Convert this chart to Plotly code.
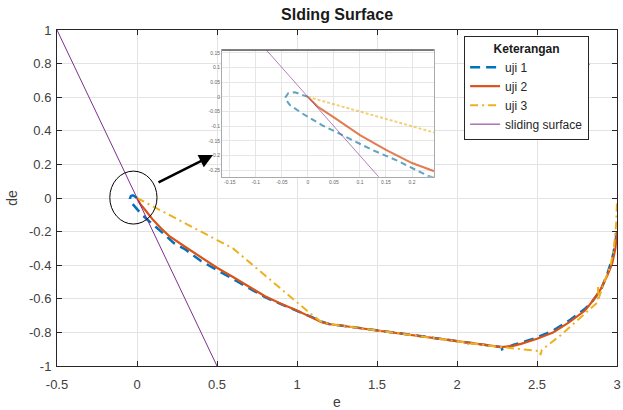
import plotly.graph_objects as go

# ---------------- data ----------------
uji1_e = [0.0, -0.006, -0.025, -0.038, -0.044, -0.035, -0.012, 0.026, 0.071, 0.122, 0.173, 0.231,
          0.3, 0.4, 0.5, 0.6, 0.7, 0.8, 0.9, 1.0, 1.1, 1.15, 1.2, 1.6, 2.0, 2.28, 2.282,
          2.35, 2.4, 2.5, 2.6, 2.7, 2.8, 2.85, 2.9, 2.94, 2.97, 2.99, 3.0]
uji1_de = [0.0, 0.004, 0.016, 0.012, -0.004, -0.027, -0.055, -0.095, -0.134, -0.179, -0.218, -0.269,
           -0.305, -0.375, -0.43, -0.485, -0.54, -0.59, -0.632, -0.67, -0.712, -0.735, -0.75, -0.8,
           -0.85, -0.888, -0.9, -0.875, -0.862, -0.83, -0.79, -0.73, -0.66, -0.61, -0.545, -0.45,
           -0.36, -0.27, -0.17]

uji2_e = [0.0, 0.02, 0.05, 0.1, 0.15, 0.2, 0.3, 0.4, 0.5, 0.6, 0.7, 0.8, 0.9, 1.0, 1.1, 1.15, 1.2,
          1.6, 2.0, 2.28, 2.35, 2.4, 2.5, 2.6, 2.7, 2.8, 2.85, 2.9, 2.94, 2.97, 2.99, 3.0]
uji2_de = [0.0, -0.035, -0.07, -0.13, -0.18, -0.225, -0.29, -0.355, -0.415, -0.47, -0.53, -0.585,
           -0.63, -0.67, -0.715, -0.738, -0.75, -0.8, -0.85, -0.888, -0.88, -0.868, -0.838, -0.8,
           -0.74, -0.67, -0.61, -0.54, -0.46, -0.39, -0.3, -0.2]

uji3_e = [0.0, 0.3, 0.6, 1.08, 1.15, 1.2, 2.07, 2.072, 2.075, 2.28, 2.52, 2.522, 2.53, 2.65, 2.77,
          2.88, 2.882, 2.885, 2.92, 2.96, 2.98, 2.995, 3.0]
uji3_de = [0.0, -0.15, -0.3, -0.685, -0.735, -0.75, -0.862, -0.878, -0.864, -0.888, -0.912, -0.935,
           -0.905, -0.815, -0.716, -0.62, -0.53, -0.6, -0.5, -0.4, -0.3, -0.15, -0.02]

surf_e = [-0.5, 0.5]
surf_de = [1.0, -1.0]

x_ticks = [-0.5, 0, 0.5, 1, 1.5, 2, 2.5, 3]
x_ticktext = ["-0.5", "0", "0.5", "1", "1.5", "2", "2.5", "3"]
y_ticks = [-1, -0.8, -0.6, -0.4, -0.2, 0, 0.2, 0.4, 0.6, 0.8, 1]
y_ticktext = ["-1", "-0.8", "-0.6", "-0.4", "-0.2", "0", "0.2", "0.4", "0.6", "0.8", "1"]

in_x_ticks = [-0.15, -0.1, -0.05, 0, 0.05, 0.1, 0.15, 0.2]
in_x_ticktext = ["-0.15", "-0.1", "-0.05", "0", "0.05", "0.1", "0.15", "0.2"]
in_y_ticks = [-0.25, -0.2, -0.15, -0.1, -0.05, 0, 0.05, 0.1, 0.15]
in_y_ticktext = ["-0.25", "-0.2", "-0.15", "-0.1", "-0.05", "0", "0.05", "0.1", "0.15"]

BLUE = "#0072BD"
ORANGE = "#D95319"
YELLOW = "#EDB120"
PURPLE = "#7E2F8E"
FONT = "Liberation Sans, Arial, sans-serif"

fig = go.Figure()

# main traces
fig.add_trace(go.Scatter(x=uji1_e, y=uji1_de, mode="lines", name="uji 1",
                         line=dict(color=BLUE, width=2.5, dash="10px,6px")))
fig.add_trace(go.Scatter(x=uji2_e, y=uji2_de, mode="lines", name="uji 2",
                         line=dict(color=ORANGE, width=2.2)))
fig.add_trace(go.Scatter(x=uji3_e, y=uji3_de, mode="lines", name="uji 3",
                         line=dict(color=YELLOW, width=2, dash="8px,4px,2px,4px")))
fig.add_trace(go.Scatter(x=surf_e, y=surf_de, mode="lines", name="sliding surface",
                         line=dict(color=PURPLE, width=1)))

# inset traces
fig.add_trace(go.Scatter(x=uji1_e, y=uji1_de, mode="lines", showlegend=False, xaxis="x2", yaxis="y2",
                         opacity=0.75, line=dict(color="#2E86AB", width=2, dash="6px,4px")))
fig.add_trace(go.Scatter(x=uji2_e, y=uji2_de, mode="lines", showlegend=False, xaxis="x2", yaxis="y2",
                         opacity=0.75, line=dict(color=ORANGE, width=2)))
fig.add_trace(go.Scatter(x=uji3_e, y=uji3_de, mode="lines", showlegend=False, xaxis="x2", yaxis="y2",
                         opacity=0.6, line=dict(color=YELLOW, width=2, dash="3px,2px")))
fig.add_trace(go.Scatter(x=surf_e, y=surf_de, mode="lines", showlegend=False, xaxis="x2", yaxis="y2",
                         opacity=0.6, line=dict(color=PURPLE, width=1)))

axis_common = dict(showgrid=True, gridcolor="#e3e3e3", gridwidth=1, zeroline=False,
                   showline=True, mirror="ticks", linecolor="#262626", linewidth=1,
                   ticks="inside", ticklen=5, tickcolor="#262626",
                   tickfont=dict(family=FONT, size=13, color="#404040"))

fig.update_layout(
    width=623, height=410,
    margin=dict(l=57, r=6, t=30, b=44),
    paper_bgcolor="white", plot_bgcolor="white",
    font=dict(family=FONT, color="#262626"),
    title=dict(text="<b>Slding Surface</b>", x=0.541, xanchor="center", y=0.966, yanchor="middle",
               font=dict(family=FONT, size=16, color="#1a1a1a")),
    xaxis=dict(range=[-0.5, 3], tickvals=x_ticks, ticktext=x_ticktext, domain=[0, 1],
               title=dict(text="e", font=dict(family=FONT, size=14, color="#404040"), standoff=8),
               ticklabelstandoff=6, automargin=False, **axis_common),
    yaxis=dict(range=[-1, 1], tickvals=y_ticks, ticktext=y_ticktext, domain=[0, 1],
               title=dict(text="de", font=dict(family=FONT, size=14, color="#404040"), standoff=8),
               ticklabelstandoff=2, automargin=False, **axis_common),
    xaxis2=dict(domain=[0.2946, 0.673], anchor="y2", range=[-0.165, 0.242],
                tickvals=in_x_ticks, ticktext=in_x_ticktext, showgrid=True, gridcolor="#e6e6e6",
                zeroline=False, showline=True, mirror=True, linecolor="#aaaaaa", ticks="",
                tickfont=dict(family=FONT, size=5, color="#666666")),
    yaxis2=dict(domain=[0.563, 0.94], anchor="x2", range=[-0.272, 0.159],
                tickvals=in_y_ticks, ticktext=in_y_ticktext, showgrid=True, gridcolor="#e6e6e6",
                zeroline=False, showline=True, mirror=True, linecolor="#aaaaaa", ticks="",
                tickfont=dict(family=FONT, size=5, color="#666666")),
    legend=dict(x=0.727, y=0.982, xanchor="left", yanchor="top",
                bgcolor="white", bordercolor="#262626", borderwidth=1,
                font=dict(family=FONT, size=12, color="#262626"),
                title=dict(text="<b>Keterangan</b>", side="top center",
                           font=dict(family=FONT, size=12, color="#1a1a1a")),
                itemwidth=30, tracegroupgap=0),
    showlegend=True,
)

# white box behind the inset (covers main grid, below traces)
fig.add_shape(type="rect", xref="x", yref="y", x0=0.444, x1=2.02, y0=0.06, y1=0.94,
              fillcolor="white", line=dict(width=0), layer="below")
# top border of inset darker
fig.add_shape(type="line", xref="x2 domain", yref="y2 domain", x0=0, x1=1, y0=1, y1=1,
              line=dict(color="#333333", width=1))
# circle around the origin
fig.add_shape(type="circle", xref="x", yref="y", x0=-0.17, x1=0.125, y0=-0.155, y1=0.16,
              line=dict(color="black", width=1))
# legend title separator
fig.add_shape(type="line", xref="paper", yref="paper", x0=0.727, x1=0.951, y0=0.898, y1=0.898,
              line=dict(color="#262626", width=1))
# arrow
fig.add_annotation(x=0.475, y=0.256, ax=0.125, ay=0.089, xref="x", yref="y", axref="x", ayref="y",
                   showarrow=True, arrowhead=2, arrowsize=1.1, arrowwidth=2.5, arrowcolor="black", text="")

fig.write_html("out.html", config={"displayModeBar": False},
               post_script="document.body.style.margin='0';document.body.style.overflow='hidden';")
